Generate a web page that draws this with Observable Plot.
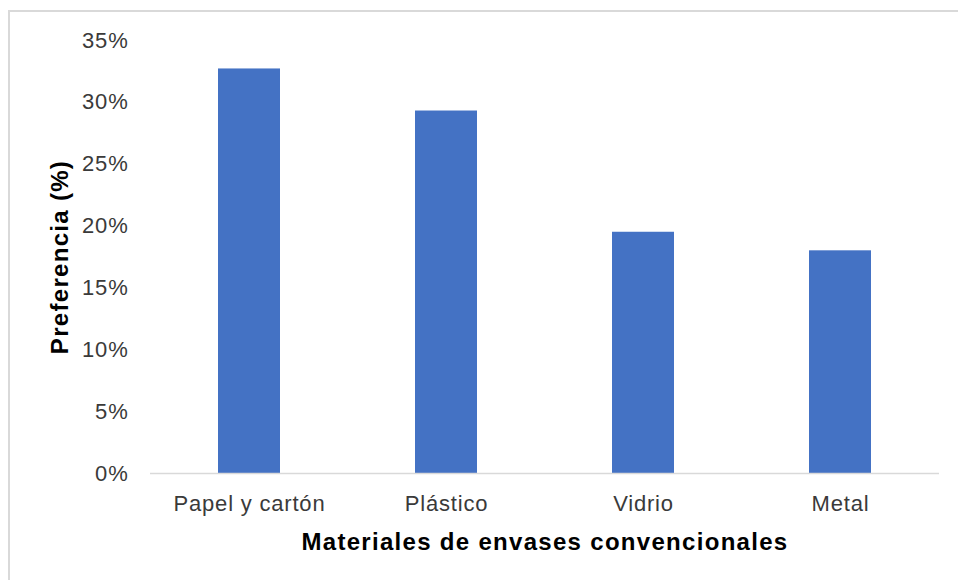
<!DOCTYPE html>
<html>
<head>
<meta charset="utf-8">
<script src="https://cdn.jsdelivr.net/npm/d3@7"></script>
<script src="https://cdn.jsdelivr.net/npm/@observablehq/plot@0.6"></script>
<style>
  body { margin: 0; background: #fff; }
  #chart { position: relative; width: 958px; height: 580px; overflow: hidden; }
  #chart svg { position: absolute; left: 0; top: 0; }
  #frame {
    position: absolute; left: 8px; top: 10px; width: 1000px; height: 1000px;
    border-left: 2px solid #d9d9d9; border-top: 2px solid #d9d9d9; pointer-events: none;
  }
  g[aria-label="x-axis tick label"], g[aria-label="y-axis tick label"] { letter-spacing: 0.8px; }
  g[aria-label="x-axis label"], g[aria-label="y-axis label"] {
    font-weight: bold; font-size: 24px; fill: #000; letter-spacing: 1.3px;
  }
</style>
</head>
<body>
<div id="chart"><div id="frame"></div></div>
<script>
// Preferencia por material de envase convencional (%)
const materiales = ["Papel y cartón", "Plástico", "Vidrio", "Metal"];
const preferencia = [32.7, 29.3, 19.5, 18.0];
const yTicks = [0, 5, 10, 15, 20, 25, 30, 35];

const data = materiales.map((m, i) => ({material: m, valor: preferencia[i]}));

const chart = Plot.plot({
  width: 958,
  height: 580,
  marginLeft: 150,
  marginRight: 19,
  marginTop: 40,
  marginBottom: 107,
  style: {fontFamily: "'Liberation Sans', Arial, sans-serif", background: "transparent", overflow: "visible"},
  x: {domain: materiales, paddingInner: 0.686, paddingOuter: 0.343},
  y: {domain: [0, 35]},
  marks: [
    Plot.barY(data, {x: "material", y: "valor", fill: "#4472C4"}),
    Plot.ruleY([0], {stroke: "#d9d9d9", strokeWidth: 1.5}),
    Plot.axisY(yTicks, {
      tickSize: 0, tickPadding: 22, tickFormat: d => d + "%",
      fontSize: 22, fill: "#3a3a3a",
      label: "Preferencia (%)", labelAnchor: "center", labelArrow: "none", labelOffset: 100
    }),
    Plot.axisX({
      tickSize: 0, tickPadding: 22,
      fontSize: 22, fill: "#3a3a3a",
      label: "Materiales de envases convencionales", labelAnchor: "center", labelArrow: "none", labelOffset: 76
    })
  ]
});

document.getElementById("chart").appendChild(chart);
</script>
</body>
</html>
